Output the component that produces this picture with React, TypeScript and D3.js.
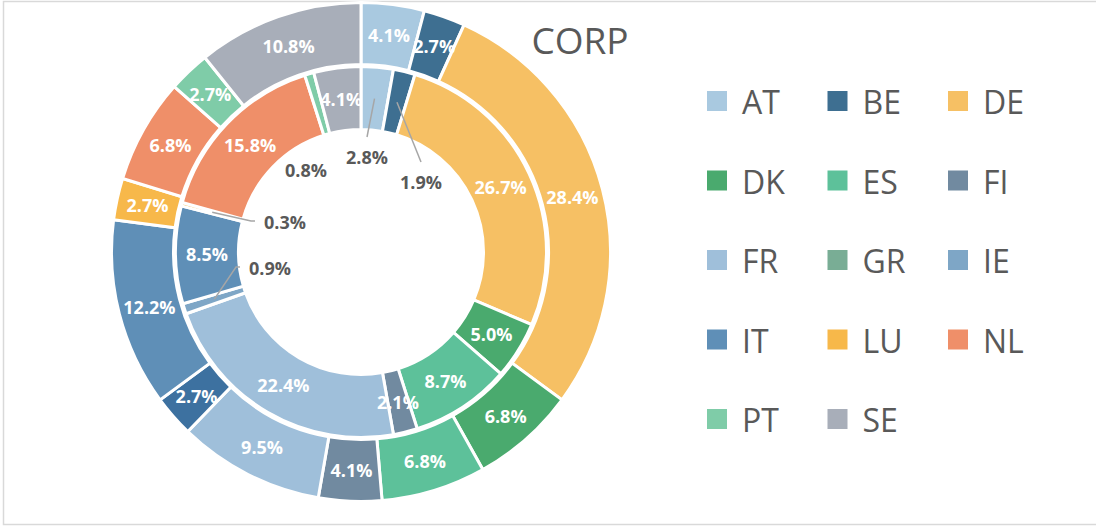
import React from 'react';
import * as d3 from 'd3';

const countries = ['AT', 'BE', 'DE', 'DK', 'ES', 'FI', 'FR', 'GR', 'IE', 'IT', 'LU', 'NL', 'PT', 'SE'];
// outer ring
const outerValues = [4.1, 2.7, 28.4, 6.8, 6.8, 4.1, 9.5, 0, 2.7, 12.2, 2.7, 6.8, 2.7, 10.8];
// inner ring
const innerValues = [2.8, 1.9, 26.7, 5.0, 8.7, 2.1, 22.4, 0, 0.9, 8.5, 0.3, 15.8, 0.8, 4.1];
const title = 'CORP';

const colors: Record<string, string> = {
  AT: '#a9c9e0',
  BE: '#3e6f91',
  DE: '#f6c064',
  DK: '#4aaa6e',
  ES: '#5dc19a',
  FI: '#718aa0',
  FR: '#9fbfda',
  GR: '#79ad95',
  IE: '#7ea6c6',
  IT: '#5f8fb7',
  LU: '#f7b84a',
  NL: '#ef8f69',
  PT: '#7fcca8',
  SE: '#a8aeb9',
};
// outer IE slice is drawn darker in the original
const outerColors: Record<string, string> = { IE: '#3d71a0' };

// callout labels for the thin inner slices (offset from centre)
const callouts: Record<string, { dx: number; dy: number; side: 'top' | 'left' | 'none' }> = {
  AT: { dx: 6, dy: -95, side: 'top' },
  BE: { dx: 60, dy: -70, side: 'top' },
  PT: { dx: -55, dy: -82, side: 'none' },
  LU: { dx: -76, dy: -30, side: 'left' },
  IE: { dx: -91, dy: 16, side: 'left' },
};

const W = 1096;
const H = 527;
const cx = 361;
const cy = 252;
const font = '"Open Sans", "Noto Sans", sans-serif';

type Slice = { name: string; value: number };

export default function App() {
  const pie = d3.pie<Slice>().sort(null).value(d => d.value);
  const outerData = pie(countries.map((name, i) => ({ name, value: outerValues[i] })).filter(d => d.value > 0));
  const innerData = pie(countries.map((name, i) => ({ name, value: innerValues[i] })).filter(d => d.value > 0));

  const outerArc = d3.arc<d3.PieArcDatum<Slice>>().innerRadius(187.5).outerRadius(249.5);
  const innerArc = d3.arc<d3.PieArcDatum<Slice>>().innerRadius(122.5).outerRadius(185.5);

  const fmt = (v: number) => v.toFixed(1) + '%';

  const legendX = d3.scalePoint<number>().domain([0, 1, 2]).range([707, 948]);
  const legendY = d3.scaleLinear().domain([0, 4]).range([102, 420]);

  return (
    <svg width={W} height={H} style={{ position: 'absolute', left: 0, top: 0, fontFamily: font }}>
      <rect x={3.5} y={1.5} width={W + 10} height={523} fill="#fff" stroke="#d9d9d9" strokeWidth={1.5} />
      <g transform={`translate(${cx},${cy})`}>
        {outerData.map(d => (
          <path key={'o' + d.data.name} d={outerArc(d) || ''}
            fill={outerColors[d.data.name] || colors[d.data.name]} stroke="#fff" strokeWidth={3} />
        ))}
        {innerData.map(d => (
          <path key={'i' + d.data.name} d={innerArc(d) || ''}
            fill={colors[d.data.name]} stroke="#fff" strokeWidth={3} />
        ))}
        {outerData.map(d => {
          const [x, y] = outerArc.centroid(d);
          return (
            <text key={'ot' + d.data.name} x={x} y={y} textAnchor="middle" dominantBaseline="central"
              fill="#fff" fontSize={18} fontWeight={700}>{fmt(d.data.value)}</text>
          );
        })}
        {innerData.map(d => {
          const [x, y] = innerArc.centroid(d);
          const c = callouts[d.data.name];
          if (!c) {
            return (
              <text key={'it' + d.data.name} x={x} y={y} textAnchor="middle" dominantBaseline="central"
                fill="#fff" fontSize={18} fontWeight={700}>{fmt(d.data.value)}</text>
            );
          }
          const ex = c.side === 'left' ? c.dx - 30 : c.dx;
          const ey = c.side === 'top' ? c.dy - 20 : c.dy - 1;
          return (
            <g key={'it' + d.data.name}>
              {c.side !== 'none' && (
                <polyline points={`${x},${y} ${c.side === 'left' ? ex - 4 : ex},${ey} ${ex},${ey}`}
                  fill="none" stroke="#a6a6a6" strokeWidth={1.5} />
              )}
              <text x={c.dx} y={c.dy} textAnchor="middle" dominantBaseline="central"
                fill="#595959" fontSize={18} fontWeight={700}>{fmt(d.data.value)}</text>
            </g>
          );
        })}
      </g>
      <text x={580} y={54} textAnchor="middle" fill="#595959" fontSize={37}>{title}</text>
      {countries.map((name, i) => {
        const x = legendX(i % 3) as number;
        const y = legendY(Math.floor(i / 3));
        return (
          <g key={'l' + name} transform={`translate(${x},${y})`}>
            <rect x={0} y={-11} width={20} height={20} fill={colors[name]} />
            <text x={35} y={12} fill="#595959" fontSize={32}>{name}</text>
          </g>
        );
      })}
    </svg>
  );
}
